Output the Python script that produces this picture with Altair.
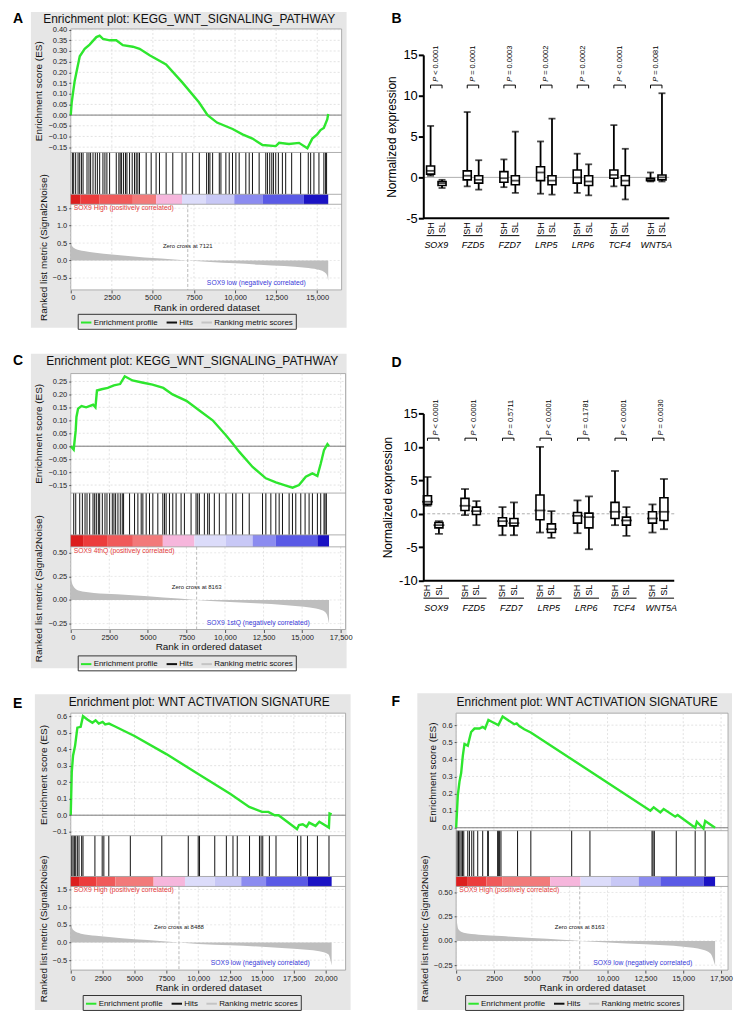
import altair as alt
import pandas as pd

FONT = "Liberation Sans, Arial, Helvetica, sans-serif"
NARROW = "Liberation Sans Narrow, Arial Narrow, Liberation Sans, sans-serif"
GREEN = "#2ee62e"
GRAYBOX = "#e6e6e6"
RED = "#e23a3a"
BLUE = "#3a3ad8"

GENES = ["SOX9", "FZD5", "FZD7", "LRP5", "LRP6", "TCF4", "WNT5A"]
GROUPS = ["SH", "SL"]
LEGEND_LABELS = ["Enrichment profile", "Hits", "Ranking metric scores"]
HEAT_COLORS = ["#dc1e1e", "#ec3c3c", "#f05a5a", "#f27a7a", "#f6b6dc",
               "#dcdcfa", "#c8c8f6", "#8c8cf0", "#5a5ae6", "#1a12c4"]

# ---------------- Panel A ----------------
A_es_rank = [0, 60, 140, 240, 400, 550, 850, 1150, 1560, 1760, 1960, 2370, 2770, 3170, 3780, 4190,
             4800, 5800, 6800, 7800, 8330, 8900, 9850, 10450, 11060, 11670, 12480, 12680, 13280,
             13890, 14400, 14700, 15000, 15200, 15400, 15610, 15670]
A_es_val = [0, 0.06, 0.105, 0.16, 0.22, 0.275, 0.31, 0.33, 0.365, 0.372, 0.357, 0.35, 0.35, 0.327,
            0.32, 0.31, 0.28, 0.237, 0.152, 0.06, 0.0, -0.035, -0.065, -0.09, -0.11, -0.14, -0.145,
            -0.13, -0.135, -0.13, -0.155, -0.11, -0.09, -0.07, -0.06, -0.02, 0.005]
A_hits = [100, 180, 300, 445, 545, 650, 750, 990, 1110, 1210, 1355, 1495, 1620, 1760, 1960, 2080,
          2200, 2365, 2770, 2930, 3010, 3095, 3215, 3335, 3420, 3580, 3740, 3880, 3985, 4085, 4185,
          4590, 4895, 5195, 5400, 5805, 6210, 6775, 7015, 7420, 7825, 8270, 8390, 8470, 8635, 9040,
          9140, 9440, 9645, 9845, 10050, 10250, 10655, 10860, 11060, 11465, 11870, 11970, 12110,
          12235, 12335, 12475, 12635, 12880, 13080, 13445, 13990, 14455, 14600, 14800, 15105,
          15405, 15510, 15570]
A_heat_edges = [0, 600, 1760, 3780, 5200, 6770, 8230, 9950, 11670, 14190, 15670]
A_rk_rank = [0, 100, 300, 800, 1500, 2500, 3500, 4500, 5500, 6300, 7121, 8500, 10000, 11500, 13000,
             14300, 15000, 15400, 15600, 15670]
A_rk_val = [0.5, 0.4, 0.33, 0.27, 0.22, 0.17, 0.13, 0.09, 0.06, 0.03, 0.0, -0.04, -0.08, -0.12,
            -0.16, -0.21, -0.26, -0.32, -0.42, -0.58]

# ---------------- Panel C ----------------
C_es_rank = [0, 190, 320, 370, 475, 700, 1000, 1450, 1600, 1700, 2000, 2400, 2800, 3200, 3500, 4000,
             4700, 5300, 6000, 6600, 7500, 8340, 9200, 10060, 10500, 10930, 11790, 12650, 13300,
             13950, 14380, 14800, 15240, 15670, 15990, 16210, 16420, 16640, 16745]
C_es_val = [0, -0.013, 0.06, 0.113, 0.145, 0.155, 0.15, 0.16, 0.15, 0.215, 0.22, 0.225, 0.235, 0.24,
            0.27, 0.254, 0.245, 0.238, 0.225, 0.2, 0.175, 0.138, 0.1, 0.042, 0.01, -0.022, -0.08,
            -0.124, -0.14, -0.152, -0.16, -0.15, -0.118, -0.105, -0.115, -0.067, -0.015, 0.008, 0.0]
C_hits = [194, 323, 582, 754, 927, 1056, 1228, 1444, 1552, 1659, 1789, 1875, 2047, 2220, 2349, 2521,
          2694, 2801, 2909, 3060, 3211, 3340, 3426, 3814, 4137, 4353, 4568, 4676, 4891, 5107, 5322,
          5645, 5969, 6077, 6184, 6400, 6615, 6831, 7154, 7370, 7801, 8124, 8232, 8340, 8663, 8878,
          8986, 9309, 9633, 10064, 10495, 10710, 11141, 11572, 12434, 12650, 12973, 13296, 13512,
          13727, 14158, 14374, 14590, 14913, 15193, 15452, 15668, 15991, 16206, 16422, 16487, 16573]
C_heat_edges = [0, 800, 2400, 4030, 5970, 8020, 10060, 11790, 13300, 15990, 16745]
C_rk_rank = [0, 150, 500, 1500, 3000, 5000, 7000, 8163, 10000, 12000, 14000, 15500, 16300, 16600, 16745]
C_rk_val = [0.23, 0.15, 0.10, 0.075, 0.06, 0.04, 0.015, 0.0, -0.02, -0.035, -0.055, -0.08, -0.11,
            -0.15, -0.25]

# ---------------- Panel E ----------------
E_es_rank = [0, 80, 180, 340, 520, 780, 960, 1300, 1700, 1950, 2200, 2500, 2700, 3000, 3400, 5000,
             7500, 10000, 12500, 14000, 15000, 15500, 16000, 16300, 17500, 17750, 17900, 18200,
             18500, 18700, 19200, 19500, 20250, 20300, 20465]
E_es_val = [0, 0.26, 0.36, 0.42, 0.53, 0.535, 0.6, 0.58, 0.56, 0.575, 0.555, 0.565, 0.55, 0.555,
            0.54, 0.48, 0.37, 0.25, 0.13, 0.05, 0.02, 0.02, 0.0, 0.0, -0.07, -0.085, -0.06, -0.055,
            -0.07, -0.045, -0.065, -0.04, -0.075, 0.01, 0.005]
E_hits = [78, 182, 286, 390, 519, 649, 857, 961, 1896, 2467, 2597, 2986, 4675, 7142, 9219, 9998,
          10102, 11297, 12206, 12725, 13063, 14024, 14803, 14933, 15062, 15582, 16101, 17789, 18049,
          18569, 19348, 20257]
E_heat_edges = [0, 650, 2000, 3500, 6500, 8960, 11300, 13375, 15320, 18570, 20465]
E_rk_rank = [0, 200, 800, 2000, 4000, 6000, 7500, 8488, 10000, 12500, 15000, 17500, 19500, 20200, 20465]
E_rk_val = [0.53, 0.35, 0.25, 0.19, 0.12, 0.07, 0.03, 0.0, -0.04, -0.08, -0.12, -0.18, -0.25,
            -0.33, -0.65]

# ---------------- Panel F ----------------
F_es_rank = [0, 110, 220, 330, 440, 550, 770, 880, 990, 1210, 1535, 1755, 1910, 2130, 2350, 2790,
             3070, 3840, 4000, 4170, 4500, 4930, 12830, 13050, 13490, 13710, 14470, 14630, 15790,
             15900, 16340, 16450, 17105]
F_es_val = [0, 0.19, 0.27, 0.32, 0.42, 0.49, 0.48, 0.52, 0.56, 0.58, 0.58, 0.59, 0.58, 0.63, 0.62,
            0.60, 0.65, 0.605, 0.61, 0.595, 0.576, 0.557, 0.1, 0.12, 0.09, 0.11, 0.065, 0.075, 0.0,
            0.035, -0.005, 0.04, 0.0]
F_hits = [66, 154, 241, 329, 417, 504, 768, 877, 1031, 1162, 1425, 1754, 2083, 2127, 2741, 2807,
          2873, 2961, 4057, 4934, 7632, 8838, 12939, 13005, 13092, 14540, 15790, 16448]
F_heat_edges = [0, 770, 2000, 3070, 6210, 8220, 10200, 12060, 13490, 16340, 17105]
F_rk_rank = [0, 150, 500, 1500, 3000, 5000, 7000, 8163, 10000, 12500, 15000, 16300, 16800, 17105]
F_rk_val = [0.26, 0.12, 0.085, 0.065, 0.05, 0.03, 0.012, 0.0, -0.015, -0.035, -0.06, -0.09, -0.13, -0.25]

# ---------------- Panel B (box plots, SH/SL per gene) ----------------
B_lo = [0.2, -1.3, -1.1, -1.5, -1.2, -1.9, -2.0, -2.1, -1.9, -2.2, -1.1, -2.7, -0.5, -0.5]
B_q1 = [0.4, -1.0, -0.3, -0.7, -0.6, -0.9, -0.4, -0.9, -0.7, -1.0, -0.1, -1.0, -0.4, -0.3]
B_med = [0.8, -0.7, 0.2, -0.3, -0.1, -0.4, 0.6, -0.4, 0.0, -0.5, 0.3, -0.4, -0.2, 0.0]
B_q3 = [1.4, -0.5, 0.8, 0.2, 0.7, 0.2, 1.3, 0.2, 0.9, 0.2, 0.9, 0.2, -0.1, 0.3]
B_hi = [6.3, -0.3, 8.0, 2.1, 2.2, 5.6, 4.4, 7.2, 2.9, 1.6, 6.4, 3.5, 0.6, 10.3]
B_P = ["< 0.0001", "= 0.0001", "= 0.0003", "= 0.0002", "= 0.0002", "< 0.0001", "= 0.0081"]

# ---------------- Panel D ----------------
D_lo = [1.2, -3.0, -0.2, -1.7, -3.2, -3.2, -2.8, -3.6, -2.9, -5.3, -1.7, -3.3, -2.8, -2.3]
D_q1 = [1.4, -2.1, 0.5, -0.1, -1.8, -1.8, -0.9, -2.8, -1.4, -2.1, -0.7, -1.7, -1.4, -1.0]
D_med = [1.8, -1.7, 1.2, 0.4, -1.1, -1.4, 0.5, -2.3, -0.3, -0.5, 0.3, -1.0, -0.7, 0.3]
D_q3 = [2.7, -1.3, 2.3, 1.0, -0.6, -0.7, 2.8, -1.5, 0.2, 0.1, 1.7, -0.5, 0.3, 2.4]
D_hi = [5.5, -1.1, 3.7, 1.9, 1.0, 1.7, 10.0, 0.4, 2.0, 2.6, 6.4, 1.0, 1.4, 5.2]
D_P = ["< 0.0001", "< 0.0001", "= 0.5711", "< 0.0001", "= 0.1781", "< 0.0001", "= 0.0030"]

# tick labels
XT_A = [0, 2500, 5000, 7500, 10000, 12500, 15000]
XT_C = [0, 2500, 5000, 7500, 10000, 12500, 15000, 17500]
XT_E = [0, 2500, 5000, 7500, 10000, 12500, 15000, 17500, 20000]
ES_T_A = [-0.15, -0.10, -0.05, 0.0, 0.05, 0.10, 0.15, 0.20, 0.25, 0.30, 0.35, 0.40]
ES_T_C = [-0.15, -0.10, -0.05, 0.0, 0.05, 0.10, 0.15, 0.20, 0.25]
ES_T_E = [-0.1, 0.0, 0.1, 0.2, 0.3, 0.4, 0.5, 0.6]
ES_T_F = [0.0, 0.1, 0.2, 0.3, 0.4, 0.5, 0.6]
RK_T_A = [-0.5, 0.0, 0.5, 1.0, 1.5]
RK_T_C = [-0.25, 0.0, 0.25, 0.50]
Y_T_B = [-5, 0, 5, 10, 15]
Y_T_D = [-10, -5, 0, 5, 10, 15]

XLBL = "datum.value >= 10000 ? format(datum.value, ',') : format(datum.value, 'd')"


def one():
    return pd.DataFrame({"k": [0]})


def yaxis(title, values, fmt, x0):
    return alt.Axis(title=title, values=values, format=fmt, orient="left", offset=-x0,
                    grid=False, domain=False, tickSize=2, tickColor="#555",
                    labelFont=FONT, labelFontSize=7.5, labelColor="#222", labelPadding=2,
                    titleFont=FONT, titleFontSize=10, titleFontWeight="normal",
                    titleColor="#111", titlePadding=4, zindex=1)


def gsea(d, p):
    W, H, x0 = p["w"], p["h"], p["x0"]
    esh = p["es_h"]
    h0, h1 = p["hits"]
    t0, t1 = p["heat"]
    xs = alt.Scale(domain=[0, p["xmax"]], range=[x0, W], nice=False, zero=False)
    es_s = alt.Scale(domain=p["es_dom"], range=[esh, 0], nice=False, zero=False)
    rk_s = alt.Scale(domain=p["rk_dom"], range=[H, t1], nice=False, zero=False)
    x_axis = alt.Axis(title="Rank in ordered dataset", values=d["xticks"], labelExpr=XLBL,
                      grid=False, domain=False, tickSize=3, tickColor="#555",
                      labelFont=FONT, labelFontSize=7.5, labelColor="#222", labelPadding=1,
                      titleFont=FONT, titleFontSize=10, titleFontWeight="normal",
                      titleColor="#111", titlePadding=1, zindex=1)
    es_axis = yaxis("Enrichment score (ES)", d["es_ticks"], p["es_fmt"], x0)
    rk_axis = yaxis("Ranked list metric (Signal2Noise)", d["rk_ticks"], p["rk_fmt"], x0)

    def X(f):
        return alt.X(f, scale=xs, axis=x_axis)

    L = []
    bx = p["box"]
    L.append(alt.Chart(one()).mark_rect(color=GRAYBOX).encode(
        x=alt.value(bx[0]), x2=alt.value(bx[1]), y=alt.value(bx[2]), y2=alt.value(bx[3])))
    L.append(alt.Chart(one()).mark_rect(fill="white", stroke="#9a9a9a", strokeWidth=0.8).encode(
        x=alt.value(x0), x2=alt.value(W), y=alt.value(0), y2=alt.value(H)))
    xt = pd.DataFrame({"t": d["xticks"]})
    for (ya, yb) in [(0, esh), (t1, H)]:
        L.append(alt.Chart(xt).mark_rule(color="#cfcfcf", strokeWidth=0.6, strokeDash=[2, 2]).encode(
            x=X("t:Q"), y=alt.value(ya), y2=alt.value(yb)))

    # enrichment score
    es_df = pd.DataFrame({"rank": d["es_rank"], "es": d["es_val"]})
    es_grid = alt.Chart(pd.DataFrame({"v": d["es_ticks"]})).mark_rule(
        color="#cfcfcf", strokeWidth=0.6, strokeDash=[2, 2]).encode(
        y=alt.Y("v:Q", scale=es_s, axis=es_axis), x=alt.value(x0), x2=alt.value(W))
    es_zero = alt.Chart(pd.DataFrame({"v": [0.0]})).mark_rule(color="#7a7a7a", strokeWidth=1).encode(
        y=alt.Y("v:Q", scale=es_s, axis=es_axis), x=alt.value(x0), x2=alt.value(W))
    es_line = alt.Chart(es_df).mark_line(color=GREEN, strokeWidth=2.4).encode(
        x=X("rank:Q"), y=alt.Y("es:Q", scale=es_s, axis=es_axis))
    L.append(alt.layer(es_grid, es_zero, es_line))

    # hits
    L.append(alt.Chart(pd.DataFrame({"rank": d["hits"]})).mark_rule(color="#111", strokeWidth=1).encode(
        x=X("rank:Q"), y=alt.value(h0), y2=alt.value(h1)))
    # heat bar
    e = d["edges"]
    heat = pd.DataFrame({"s": e[:-1], "e": e[1:], "c": HEAT_COLORS})
    L.append(alt.Chart(heat).mark_rect().encode(
        x=X("s:Q"), x2="e:Q", y=alt.value(t0), y2=alt.value(t1), fill=alt.Fill("c:N", scale=None)))

    # ranked list metric
    rk_df = pd.DataFrame({"rank": d["rk_rank"], "m": d["rk_val"]})
    rk_grid = alt.Chart(pd.DataFrame({"v": d["rk_ticks"]})).mark_rule(
        color="#d8d8d8", strokeWidth=0.6, strokeDash=[2, 2]).encode(
        y=alt.Y("v:Q", scale=rk_s, axis=rk_axis), x=alt.value(x0), x2=alt.value(W))
    rk_area = alt.Chart(rk_df).mark_area(color="#bebebe", interpolate="monotone").encode(
        x=X("rank:Q"), y=alt.Y("m:Q", scale=rk_s, axis=rk_axis), y2=alt.datum(0))
    L.append(alt.layer(rk_grid, rk_area))

    zc = pd.DataFrame({"rank": [d["zc"]], "lab": ["Zero cross at %d" % d["zc"]]})
    L.append(alt.Chart(zc).mark_rule(color="#a8a8a8", strokeWidth=0.8, strokeDash=[3, 2]).encode(
        x=X("rank:Q"), y=alt.value(t1), y2=alt.value(H)))
    L.append(alt.Chart(zc).mark_text(font=NARROW, fontSize=6, color="#222").encode(
        x=X("rank:Q"), y=alt.value(p["zc_y"]), text="lab:N"))
    L.append(alt.Chart(one()).mark_text(font=NARROW, fontSize=6.8, color=RED, align="left",
                                        baseline="top").encode(
        x=alt.value(x0 + 3), y=alt.value(t1 + 1), text=alt.value(d["pos"])))
    L.append(alt.Chart(one()).mark_text(font=NARROW, fontSize=6.8, color=BLUE, align="right",
                                        baseline="middle").encode(
        x=alt.value(W - 36), y=alt.value(H - 7), text=alt.value(d["neg"])))
    for yv in (esh, t0, t1):
        L.append(alt.Chart(one()).mark_rule(color="#9a9a9a", strokeWidth=0.8).encode(
            x=alt.value(x0), x2=alt.value(W), y=alt.value(yv)))
    L.append(alt.Chart(one()).mark_text(font=FONT, fontSize=12, color="#111").encode(
        x=alt.value(p["title"][0]), y=alt.value(p["title"][1]), text=alt.value(d["title"])))
    L.append(alt.Chart(one()).mark_text(font=FONT, fontSize=14, fontWeight="bold", align="left",
                                        color="black").encode(
        x=alt.value(p["letter"][0]), y=alt.value(p["letter"][1]), text=alt.value(d["letter"])))
    L.append(alt.Chart(pd.DataFrame({"lab": LEGEND_LABELS})).mark_line().encode(
        x=alt.value(x0), y=alt.value(0),
        stroke=alt.Stroke("lab:N", scale=alt.Scale(domain=LEGEND_LABELS,
                                                    range=[GREEN, "#111111", "#c4c4c4"]),
                          legend=alt.Legend(title=None, orient="none", legendX=p["leg"][0],
                                            legendY=p["leg"][1], direction="horizontal",
                                            symbolType="stroke", symbolStrokeWidth=2,
                                            symbolSize=110, labelFont=FONT, labelFontSize=8,
                                            labelColor="#111", strokeColor="#333", padding=2,
                                            columnPadding=4, labelOffset=1, zindex=1))))
    return alt.layer(*L).resolve_scale(y="independent").properties(width=W, height=H)


def boxpanel(d, p):
    W, H = p["w"], p["h"]
    yb, yt = p["yr"]
    ys = alt.Scale(domain=p["ydom"], range=[yb, yt], nice=False, zero=False)
    xs = alt.Scale(domain=GENES, paddingInner=p["pi"], paddingOuter=p["po"])
    xos = alt.Scale(domain=GROUPS, paddingInner=p["pio"], paddingOuter=0)
    yax = alt.Axis(title="Normalized expression", values=d["yticks"],
                   labelExpr="datum.value < 0 ? '-' + abs(datum.value) : '' + datum.value",
                   grid=False, domain=True, domainColor="black", domainWidth=2, ticks=True,
                   tickColor="black", tickWidth=2, tickSize=5, labelFont=FONT, labelFontSize=13,
                   labelColor="black", labelPadding=1, titleFont=FONT, titleFontSize=12,
                   titleFontWeight="normal", titleColor="black", titlePadding=4, zindex=1)
    X = alt.X("gene:N", scale=xs, axis=None)
    XO = alt.XOffset("grp:N", scale=xos)

    def Y(f):
        return alt.Y(f, scale=ys, axis=yax)

    n = len(GENES)
    df = pd.DataFrame({"gene": [g for g in GENES for _ in GROUPS], "grp": GROUPS * n,
                       "lo": d["lo"], "q1": d["q1"], "med": d["med"], "q3": d["q3"], "hi": d["hi"]})
    L = []
    zkw = dict(color="#9a9a9a", strokeWidth=0.8)
    if p["dash"]:
        zkw["strokeDash"] = [3, 2]
    L.append(alt.Chart(pd.DataFrame({"v": [0]})).mark_rule(**zkw).encode(y=Y("v:Q")))
    L.append(alt.Chart(df).mark_rule(color="black", strokeWidth=1.8).encode(
        x=X, xOffset=XO, y=Y("lo:Q"), y2="hi:Q"))
    for f in ("lo:Q", "hi:Q"):
        L.append(alt.Chart(df).mark_tick(color="black", thickness=1.8, size=p["cap"]).encode(
            x=X, xOffset=XO, y=Y(f)))
    L.append(alt.Chart(df).mark_bar(fill="white", stroke="black", strokeWidth=1.6).encode(
        x=X, xOffset=XO, y=Y("q1:Q"), y2="q3:Q"))
    L.append(alt.Chart(df).mark_tick(color="black", thickness=1.8, size=p["boxw"]).encode(
        x=X, xOffset=XO, y=Y("med:Q")))
    L.append(alt.Chart(pd.DataFrame({"v": [p["ydom"][0]]})).mark_rule(
        color="black", strokeWidth=2).encode(y=Y("v:Q")))
    L.append(alt.Chart(df).mark_text(font=FONT, fontSize=9, angle=270, align="right",
                                     baseline="middle", color="black").encode(
        x=X, xOffset=XO, y=alt.value(yb + 4), text="grp:N"))
    gdf = pd.DataFrame({"gene": GENES, "p": d["p"]})
    L.append(alt.Chart(gdf).mark_bar(color="black").encode(
        x=X, y=alt.value(yb + 17), y2=alt.value(yb + 18)))
    L.append(alt.Chart(gdf).mark_text(font=FONT, fontSize=9, fontStyle="italic",
                                      color="black").encode(
        x=X, y=alt.value(yb + 27), text="gene:N"))
    top, leg = p["br"]
    br = pd.DataFrame({"gene": [g for g in GENES for _ in range(4)],
                       "grp": ["SH", "SH", "SL", "SL"] * n,
                       "y": [leg, top, top, leg] * n, "o": [0, 1, 2, 3] * n})
    L.append(alt.Chart(br).mark_line(color="black", strokeWidth=1).encode(
        x=X, xOffset=XO, y=Y("y:Q"), detail="gene:N", order="o:Q"))
    gdf["py"] = p["py"]
    L.append(alt.Chart(gdf).mark_text(font=FONT, fontSize=7.5, fontStyle="italic", angle=270,
                                      align="left", baseline="middle", color="black").encode(
        x=X, y=Y("py:Q"), text=alt.value("P")))
    L.append(alt.Chart(gdf).mark_text(font=FONT, fontSize=7.5, angle=270, align="left",
                                      baseline="middle", color="black", dx=7).encode(
        x=X, y=Y("py:Q"), text="p:N"))
    L.append(alt.Chart(one()).mark_text(font=FONT, fontSize=14, fontWeight="bold", align="left",
                                        color="black").encode(
        x=alt.value(p["letter"][0]), y=alt.value(p["letter"][1]), text=alt.value(d["letter"])))
    return alt.layer(*L).properties(width=W, height=H)


TITLE1 = "Enrichment plot: KEGG_WNT_SIGNALING_PATHWAY"
TITLE2 = "Enrichment plot: WNT ACTIVATION SIGNATURE"

A = gsea(dict(letter="A", title=TITLE1, es_rank=A_es_rank, es_val=A_es_val, hits=A_hits,
              edges=A_heat_edges, rk_rank=A_rk_rank, rk_val=A_rk_val, zc=7121,
              pos="SOX9 High (positively correlated)", neg="SOX9 low (negatively correlated)",
              xticks=XT_A, es_ticks=ES_T_A, rk_ticks=RK_T_A),
         dict(w=272, h=262, x0=0, es_h=124, hits=(124, 166), heat=(166, 176), xmax=16485,
              es_dom=[-0.175, 0.403], rk_dom=[-0.843, 1.614], es_fmt=".2f", rk_fmt=".1f",
              box=(-40, 277, -17, 300), title=(119, -10), letter=(-58, -10), leg=(7, 286),
              zc_y=218))
C = gsea(dict(letter="C", title=TITLE1, es_rank=C_es_rank, es_val=C_es_val, hits=C_hits,
              edges=C_heat_edges, rk_rank=C_rk_rank, rk_val=C_rk_val, zc=8163,
              pos="SOX9 4thQ (positively correlated)", neg="SOX9 1stQ (negatively correlated)",
              xticks=XT_C, es_ticks=ES_T_C, rk_ticks=RK_T_C),
         dict(w=276, h=257, x0=0, es_h=120, hits=(120, 162), heat=(162, 174), xmax=17820,
              es_dom=[-0.181, 0.2805], rk_dom=[-0.313, 0.563], es_fmt=".2f", rk_fmt=".2f",
              box=(-40, 277, -20, 296), title=(122, -13), letter=(-58, -13), leg=(7, 283),
              zc_y=214))
E = gsea(dict(letter="E", title=TITLE2, es_rank=E_es_rank, es_val=E_es_val, hits=E_hits,
              edges=E_heat_edges, rk_rank=E_rk_rank, rk_val=E_rk_val, zc=8488,
              pos="SOX9 High (positively correlated)", neg="SOX9 low (negatively correlated)",
              xticks=XT_E, es_ticks=ES_T_E, rk_ticks=RK_T_A),
         dict(w=276, h=258, x0=0, es_h=123, hits=(123, 164), heat=(164, 174), xmax=21560,
              es_dom=[-0.124, 0.618], rk_dom=[-0.781, 1.585], es_fmt=".1f", rk_fmt=".1f",
              box=(-36, 281, -19, 298), title=(129, -11), letter=(-58, -9), leg=(12, 283),
              zc_y=215))
F = gsea(dict(letter="F", title=TITLE2, es_rank=F_es_rank, es_val=F_es_val, hits=F_hits,
              edges=F_heat_edges, rk_rank=F_rk_rank, rk_val=F_rk_val, zc=8163,
              pos="SOX9 High (positively correlated)", neg="SOX9 low (negatively correlated)",
              xticks=XT_C, es_ticks=ES_T_F, rk_ticks=RK_T_C),
         dict(w=306, h=258, x0=33, es_h=118, hits=(118, 164), heat=(164, 174), xmax=17960,
              es_dom=[-0.017, 0.67], rk_dom=[-0.301, 0.562], es_fmt=".1f", rk_fmt=".2f",
              box=(-6, 310, -20, 298), title=(164.5, -11), letter=(-32, -11), leg=(42, 283),
              zc_y=215))
B = boxpanel(dict(letter="B", lo=B_lo, q1=B_q1, med=B_med, q3=B_q3, hi=B_hi, p=B_P, yticks=Y_T_B),
             dict(w=247, h=262, yr=(190, 26), ydom=[-5, 15], pi=0.469, po=0.09, pio=0.3,
                  cap=7, boxw=8, dash=False, br=(11.3, 10.9), py=11.7, letter=(-32, -10)))
D = boxpanel(dict(letter="D", lo=D_lo, q1=D_q1, med=D_med, q3=D_q3, hi=D_hi, p=D_P, yticks=Y_T_D),
             dict(w=252, h=257, yr=(208, 40), ydom=[-10, 15], pi=0.318, po=0.005, pio=0.24,
                  cap=8, boxw=11, dash=True, br=(11.3, 10.9), py=11.7, letter=(-32, -11)))

chart = alt.concat(A, B, C, D, E, F, columns=2, spacing={"row": 84, "column": 78},
                   bounds="flush").resolve_scale(stroke="independent").resolve_legend(
    stroke="independent").properties(
    padding={"left": 5, "top": 2, "right": 2, "bottom": 2}).configure_view(stroke=None)

chart.save("out.html", embed_options={"renderer": "svg", "actions": False})
